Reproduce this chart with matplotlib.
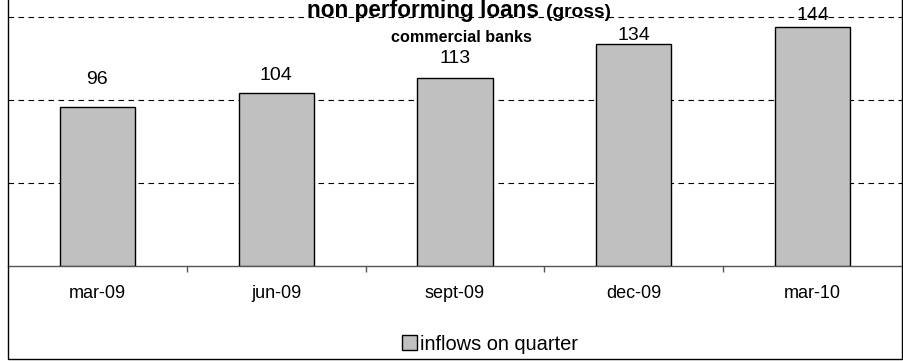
import matplotlib
matplotlib.use("Agg")
import matplotlib.pyplot as plt
from matplotlib.patches import Rectangle, Patch
import numpy as np

categories = ["mar-09", "jun-09", "sept-09", "dec-09", "mar-10"]
values = [96, 104, 113, 134, 144]
series_name = "inflows on quarter"
title_main = "non performing loans"
title_sub = "(gross)"
subtitle = "commercial banks"

# label pixel offsets (label centre above bar top; style only)
label_offsets = [29, 20, 22, 10, 13]

plt.rcParams["font.family"] = ["Liberation Sans", "DejaVu Sans"]

W, H = 904, 361
fig = plt.figure(figsize=(W / 100, H / 100), dpi=100)

def fx(px):
    return px / W

def fy(py):
    return 1 - py / H

ax = fig.add_axes([fx(8), fy(266), fx(902) - fx(8), fy(0) - fy(266)])
x = np.arange(len(categories))
ax.bar(x, values, width=0.42, color="#C0C0C0", edgecolor="black", linewidth=1.0, zorder=3)
ax.set_xlim(-0.5, len(categories) - 0.5)
ax.set_ylim(0, 160.2)
ax.set_yticks([50, 100, 150])
ax.yaxis.grid(True, linestyle=(0, (5, 4)), color="black", linewidth=0.8, zorder=1)
ax.tick_params(axis="y", left=False, labelleft=False)
ax.set_xticks(x)
ax.set_xticklabels(categories, fontsize=13)
ax.tick_params(axis="x", which="major", length=0, pad=14)
ax.set_xticks(np.arange(0.5, len(categories) - 0.5, 1), minor=True)
ax.tick_params(axis="x", which="minor", length=4, color="#555555", width=1)
for s in ["top", "right", "left"]:
    ax.spines[s].set_visible(False)
ax.spines["bottom"].set_color("#555555")
ax.spines["bottom"].set_linewidth(1)

for xi, v, off in zip(x, values, label_offsets):
    ax.annotate(str(v), (xi, v), xytext=(0, off - 2), textcoords="offset pixels",
                ha="center", va="center", fontsize=14)

# title made of two parts with different sizes, centred as a whole
t1 = fig.text(0, fy(17), title_main + " ", ha="left", va="baseline",
              fontsize=16.3, fontweight="bold")
t2 = fig.text(0, fy(17), title_sub, ha="left", va="baseline", fontsize=13.8,
              fontweight="bold")
fig.canvas.draw()
r = fig.canvas.get_renderer()
w1 = t1.get_window_extent(r).width
w2 = t2.get_window_extent(r).width
start = 459 - (w1 + w2) / 2
t1.set_x(fx(start))
t2.set_x(fx(start + w1))
fig.text(fx(461), fy(38), subtitle, ha="center", va="center", fontsize=11.6,
         fontweight="bold")

fig.legend(handles=[Patch(facecolor="#C0C0C0", edgecolor="black", linewidth=1)],
           labels=[series_name], loc="center left", bbox_to_anchor=(fx(402), fy(344)),
           frameon=False, fontsize=14.4, handlelength=0.75, handleheight=0.75,
           handletextpad=0.15, borderpad=0, borderaxespad=0)

fig.add_artist(Rectangle((fx(8), fy(359)), fx(902) - fx(8), fy(-2) - fy(359),
                         transform=fig.transFigure, fill=False, edgecolor="black",
                         linewidth=1))

fig.savefig("out.png", dpi=100)
